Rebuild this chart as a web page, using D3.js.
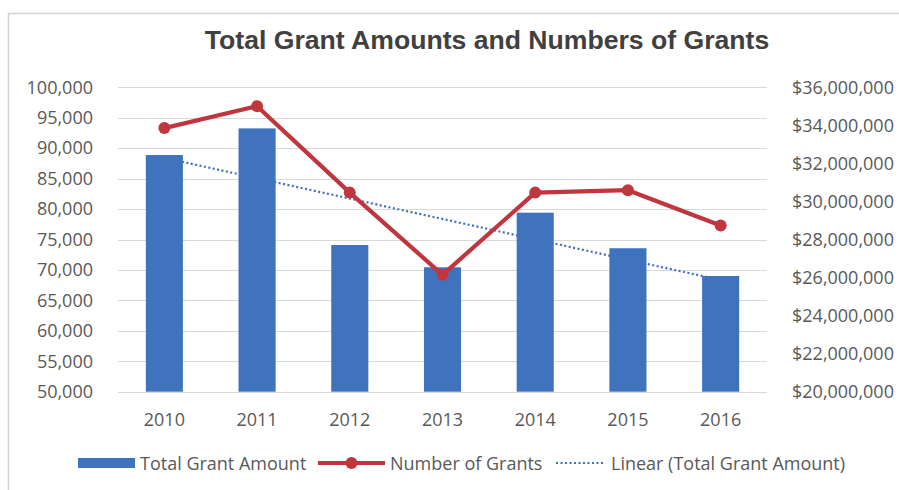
<!DOCTYPE html>
<html>
<head>
<meta charset="utf-8">
<script src="https://cdn.jsdelivr.net/npm/d3@7"></script>
<style>
  html, body { margin: 0; padding: 0; background: #fff; }
  svg { display: block; }
  text { font-family: "Open Sans", sans-serif; }
</style>
</head>
<body>
<svg id="chart" width="899" height="490"></svg>
<script>
// Yearly figures
const years = ["2010", "2011", "2012", "2013", "2014", "2015", "2016"];
const totalGrantAmount = [32440000, 33840000, 27710000, 26540000, 29410000, 27540000, 26080000];
const numberOfGrants = [93300, 96900, 82700, 69200, 82700, 83100, 77300];

// Axis ticks
const leftTicks = [50000, 55000, 60000, 65000, 70000, 75000, 80000, 85000, 90000, 95000, 100000];
const rightTicks = [20000000, 22000000, 24000000, 26000000, 28000000, 30000000, 32000000, 34000000, 36000000];

const titleText = "Total Grant Amounts and Numbers of Grants";
const legendLabels = ["Total Grant Amount", "Number of Grants", "Linear (Total Grant Amount)"];

const colors = { bar: "#3F73BE", line: "#C0363F", trend: "#3F6FC0", grid: "#D9D9D9", axisText: "#595959", title: "#404040" };

const svg = d3.select("#chart");
const plot = { left: 118, right: 767, top: 87.3, bottom: 391.7 };

// Frame around the chart area
svg.append("path")
  .attr("d", `M8.5,490 V13.5 H899`)
  .attr("fill", "none")
  .attr("stroke", "#D4D4D4")
  .attr("stroke-width", 1.5);

// Scales
const x = d3.scaleBand().domain(years).range([plot.left, plot.right]).paddingInner(0.6).paddingOuter(0.3);
const yLeft = d3.scaleLinear().domain([50000, 100000]).range([plot.bottom, plot.top]);
const yRight = d3.scaleLinear().domain([20000000, 36000000]).range([plot.bottom, plot.top]);

// Horizontal gridlines
svg.append("g").selectAll("line").data(leftTicks).join("line")
  .attr("x1", plot.left).attr("x2", plot.right)
  .attr("y1", d => Math.round(yLeft(d)) + 0.5).attr("y2", d => Math.round(yLeft(d)) + 0.5)
  .attr("stroke", colors.grid).attr("stroke-width", 1.2);

// Axes
const styleAxis = g => {
  g.select(".domain").remove();
  g.selectAll("line").remove();
  g.selectAll("text").attr("fill", colors.axisText).style("font-size", "18px").style("font-family", "'Open Sans', sans-serif");
};

svg.append("g").attr("transform", `translate(${plot.left},0)`)
  .call(d3.axisLeft(yLeft).tickValues(leftTicks).tickSize(0).tickPadding(25).tickFormat(d3.format(",")))
  .call(styleAxis);

svg.append("g").attr("transform", `translate(${plot.right},0)`)
  .call(d3.axisRight(yRight).tickValues(rightTicks).tickSize(0).tickPadding(25).tickFormat(d3.format("$,")))
  .call(styleAxis);

svg.append("g").attr("transform", `translate(0,${plot.bottom})`)
  .call(d3.axisBottom(x).tickSize(0).tickPadding(21.5))
  .call(styleAxis);

// Linear trend of total grant amount (least squares), drawn beneath the bars
const n = years.length;
const xs = d3.range(n);
const mx = d3.mean(xs), my = d3.mean(totalGrantAmount);
const slope = d3.sum(xs, i => (i - mx) * (totalGrantAmount[i] - my)) / d3.sum(xs, i => (i - mx) ** 2);
const intercept = my - slope * mx;
const cx = i => x(years[i]) + x.bandwidth() / 2;

svg.append("line")
  .attr("x1", cx(0)).attr("y1", yRight(intercept))
  .attr("x2", cx(n - 1)).attr("y2", yRight(intercept + slope * (n - 1)))
  .attr("stroke", colors.trend).attr("stroke-width", 2.2)
  .attr("stroke-dasharray", "2,2.5");

// Bars: total grant amount on the dollar axis
svg.append("g").selectAll("rect").data(years).join("rect")
  .attr("x", d => x(d))
  .attr("width", x.bandwidth())
  .attr("y", (d, i) => yRight(totalGrantAmount[i]))
  .attr("height", (d, i) => plot.bottom - yRight(totalGrantAmount[i]))
  .attr("fill", colors.bar);

// Line: number of grants on the count axis
const linePts = years.map((d, i) => [cx(i), yLeft(numberOfGrants[i])]);
svg.append("path")
  .attr("d", d3.line()(linePts))
  .attr("fill", "none")
  .attr("stroke", colors.line)
  .attr("stroke-width", 4.2)
  .attr("stroke-linejoin", "round");

svg.append("g").selectAll("circle").data(linePts).join("circle")
  .attr("cx", d => d[0]).attr("cy", d => d[1]).attr("r", 6)
  .attr("fill", colors.line);

// Title
svg.append("text")
  .attr("x", 487).attr("y", 49)
  .attr("text-anchor", "middle")
  .style("font-family", "'Liberation Sans', Arial, sans-serif")
  .style("font-weight", "bold")
  .style("font-size", "26.6px")
  .attr("fill", colors.title)
  .text(titleText);

// Legend
const legend = svg.append("g");
const legendY = 463;
legend.append("rect").attr("x", 78).attr("y", legendY - 5).attr("width", 57).attr("height", 10).attr("fill", colors.bar);
legend.append("text").attr("x", 140).attr("y", legendY + 6.5).text(legendLabels[0]);

legend.append("line").attr("x1", 318).attr("x2", 385).attr("y1", legendY).attr("y2", legendY)
  .attr("stroke", colors.line).attr("stroke-width", 4.2);
legend.append("circle").attr("cx", 351.5).attr("cy", legendY).attr("r", 6).attr("fill", colors.line);
legend.append("text").attr("x", 390).attr("y", legendY + 6.5).text(legendLabels[1]);

legend.append("line").attr("x1", 556).attr("x2", 603).attr("y1", legendY).attr("y2", legendY)
  .attr("stroke", colors.trend).attr("stroke-width", 2.2).attr("stroke-dasharray", "2,2.5");
legend.append("text").attr("x", 611).attr("y", legendY + 6.5).text(legendLabels[2]);

legend.selectAll("text").attr("fill", colors.axisText).style("font-size", "18px");
</script>
</body>
</html>
